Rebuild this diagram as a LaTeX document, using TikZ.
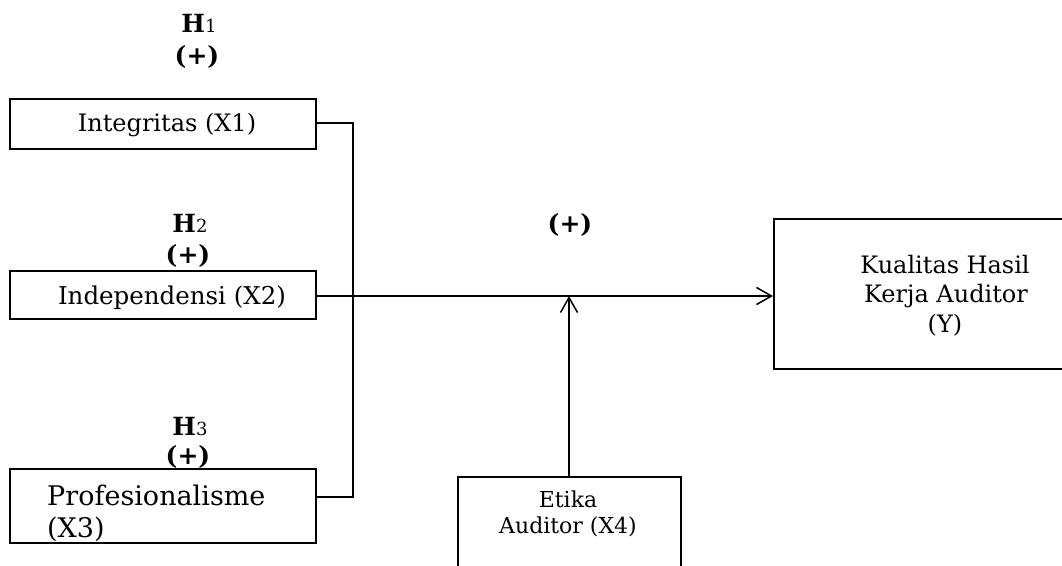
\documentclass[tikz,border=0pt]{standalone}
\usepackage{fontspec}
\setmainfont{DejaVu Serif}
\usetikzlibrary{arrows.meta}
\begin{document}
\begin{tikzpicture}[x=1pt,y=-1pt,
  boxst/.style={draw,line width=1.8pt,inner sep=0pt},
  lbl/.style={font=\bfseries\fontsize{25}{28}\selectfont,inner sep=0pt},
  conn/.style={line width=1.5pt},
  arr/.style={conn,-{Straight Barb[length=15pt,width=17pt,line width=1.5pt]}}]
\path[use as bounding box] (0,0) rectangle (1062,565);
\clip (0,0) rectangle (1062,565);
% boxes
\node[boxst,minimum width=306pt,minimum height=50pt] (x1) at (163,124) {};
\node[boxst,minimum width=306pt,minimum height=48pt] (x2) at (163,295) {};
\node[boxst,minimum width=306pt,minimum height=74pt] (x3) at (163,506) {};
\node[boxst,minimum width=223pt,minimum height=120pt,anchor=north west] (x4) at (457,476) {};
\node[boxst,minimum width=320pt,minimum height=150pt,anchor=north west] (y) at (773,218) {};
% texts
\node[inner sep=0pt,font=\fontsize{24}{28}\selectfont,anchor=base] (x1t) at (167,131) {Integritas (X1)};
\node[inner sep=0pt,font=\fontsize{24.5}{28}\selectfont,anchor=base] (x2t) at (172,304) {Independensi (X2)};
\node[inner sep=0pt,font=\fontsize{27}{32}\selectfont,anchor=base west] (x3t) at (47,505) {Profesionalisme};
\node[inner sep=0pt,font=\fontsize{27}{32}\selectfont,anchor=base west] (x3u) at (47,537) {(X3)};
\node[inner sep=0pt,font=\fontsize{22}{26}\selectfont,anchor=base] (x4t) at (568,507) {Etika};
\node[inner sep=0pt,font=\fontsize{22}{26}\selectfont,anchor=base] (x4u) at (568,533) {Auditor (X4)};
\node[inner sep=0pt,font=\fontsize{24}{30}\selectfont,anchor=base] (yt1) at (945,273) {Kualitas Hasil};
\node[inner sep=0pt,font=\fontsize{24}{30}\selectfont,anchor=base] (yt2) at (946,302) {Kerja Auditor};
\node[inner sep=0pt,font=\fontsize{24}{30}\selectfont,anchor=base] (yt3) at (945,332) {(Y)};
% hypothesis labels
\node[lbl,anchor=base] (h1) at (199,32) {H{\mdseries\fontsize{18}{20}\selectfont 1}};
\node[lbl,anchor=base] (p1) at (197,64) {(+)};
\node[lbl,anchor=base] (h2) at (190,232) {H{\mdseries\fontsize{18}{20}\selectfont 2}};
\node[lbl,anchor=base] (p2) at (188,263) {(+)};
\node[lbl,anchor=base] (h3) at (190,435) {H{\mdseries\fontsize{18}{20}\selectfont 3}};
\node[lbl,anchor=base] (p3) at (188,464) {(+)};
\node[lbl,anchor=base] (p4) at (570,232) {(+)};
% connectors
\coordinate (j1) at (353,123);
\coordinate (j3) at (353,497);
\coordinate (m) at (569,296);
\draw[conn] (x1.east |- j1) -- (j1) -- (j3) -- (x3.east |- j3);
\draw[arr] (x2.east |- m) -- (y.west |- m);
\draw[arr] (x4.north -| m) -- (m);
\end{tikzpicture}
\end{document}
